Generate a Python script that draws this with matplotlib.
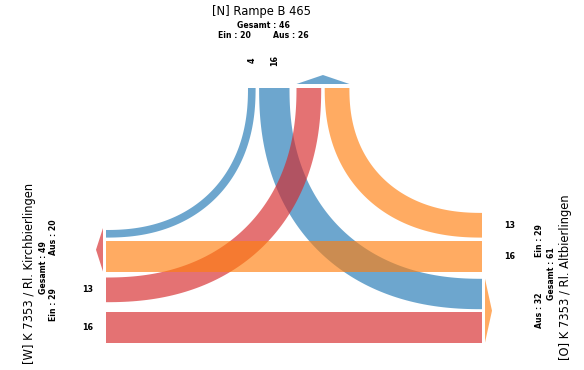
import numpy as np
import matplotlib.pyplot as plt
from matplotlib.patches import Polygon


# Knotenstromdaten (Fahrzeuge)
arm_namen = {'N': '[N] Rampe B 465',
             'W': '[W] K 7353 / Rl. Kirchbierlingen',
             'O': '[O] K 7353 / Rl. Altbierlingen'}
ein = {'N': 20, 'W': 29, 'O': 29}
aus = {'N': 26, 'W': 20, 'O': 32}
gesamt = {'N': 46, 'W': 49, 'O': 61}

von = ['N', 'N', 'W', 'W', 'O', 'O']
nach = ['W', 'O', 'N', 'O', 'N', 'W']
menge = [4, 16, 13, 16, 13, 16]

farbe = {'N': 'tab:blue', 'W': 'tab:red', 'O': 'tab:orange'}
ALPHA = 0.65

strom = {(v, n): m for v, n, m in zip(von, nach, menge)}

# layout (pixel units, y nach unten)
k = 1.9          # px pro Fahrzeug
L, R, T = 106, 482, 88
P = 2.25         # Form der Bögen (Superellipse)

def breite(v, n):
    return strom[(v, n)] * k

# Fahrstreifen am Nordarm (x-Lage)
nx = {}
x = 248
for (v, n), g in zip([('N', 'W'), ('N', 'O'), ('W', 'N'), ('O', 'N')], [3.5, 7, 3.5, 0]):
    w = breite(v, n)
    nx[(v, n)] = (x, x + w)
    x += w + g

# Fahrstreifen am Westarm (y-Lage)
wy = {}
y = 230
for (v, n), g in zip([('N', 'W'), ('O', 'W'), ('W', 'N'), ('W', 'O')], [3.5, 6, 10, 0]):
    w = breite(v, n)
    wy[(v, n)] = (y, y + w)
    y += w + g

# Ostarm: gerade Bänder liegen gleich wie im Westen
oy = {('O', 'W'): wy[('O', 'W')], ('W', 'O'): wy[('W', 'O')]}
top = oy[('O', 'W')][0] - 3.5
oy[('O', 'N')] = (top - breite('O', 'N'), top)
bot = oy[('W', 'O')][0] - 3
oy[('N', 'O')] = (bot - breite('N', 'O'), bot)


fig = plt.figure(figsize=(5.84, 3.70), dpi=100)
ax = fig.add_axes([0, 0, 1, 1])
ax.set_xlim(0, 584)
ax.set_ylim(370, 0)
ax.axis('off')


def bogen(xr, yr, seite, c):
    # Viertel-Superellipse von oben (Nordarm) zur Seite (W oder O)
    t = np.linspace(0, np.pi / 2, 100)
    cs = np.cos(t) ** (2 / P)
    sn = np.sin(t) ** (2 / P)
    cx = L if seite == 'W' else R
    sx = 1 if seite == 'W' else -1
    xm = (xr[0] + xr[1]) / 2
    ym = (yr[0] + yr[1]) / 2
    w = xr[1] - xr[0]
    a = abs(xm - cx)
    b = ym - T
    aussen = np.column_stack([cx + sx * (a + w / 2) * cs, T + (b + w / 2) * sn])
    innen = np.column_stack([cx + sx * (a - w / 2) * cs, T + (b - w / 2) * sn])
    pts = np.vstack([aussen, innen[::-1]])
    ax.add_patch(Polygon(pts, closed=True, fc=c, ec='none', alpha=ALPHA))


for v, n in zip(von, nach):
    c = farbe[v]
    if 'N' in (v, n):
        seite = n if v == 'N' else v
        yr = wy[(v, n)] if seite == 'W' else oy[(v, n)]
        bogen(nx[(v, n)], yr, seite, c)
    else:
        y0, y1 = wy[(v, n)]
        ax.add_patch(Polygon([(L, y0), (R, y0), (R, y1), (L, y1)], closed=True,
                             fc=c, ec='none', alpha=ALPHA))

# Richtungspfeile (ausfahrende Streifen)
x0 = nx[('W', 'N')][0]
x1 = nx[('O', 'N')][1]
ax.add_patch(Polygon([(x0, T - 4), (x1, T - 4), ((x0 + x1) / 2, T - 13)],
                     fc=farbe['N'], ec='none', alpha=ALPHA))
y0 = wy[('N', 'W')][0] - 2
y1 = wy[('O', 'W')][1]
ax.add_patch(Polygon([(L - 3, y0), (L - 3, y1), (L - 10, (y0 + y1) / 2)],
                     fc=farbe['W'], ec='none', alpha=ALPHA))
y0 = oy[('N', 'O')][0]
y1 = oy[('W', 'O')][1]
ax.add_patch(Polygon([(R + 3, y0), (R + 3, y1), (R + 10, (y0 + y1) / 2)],
                     fc=farbe['O'], ec='none', alpha=ALPHA))

# Mengen an den einfahrenden Streifen
for n in ['W', 'O']:
    xa, xb = nx[('N', n)]
    ax.text((xa + xb) / 2, 60, str(strom[('N', n)]), rotation=90, ha='center', va='center',
            fontsize=5.8, fontweight='bold')
for n in ['N', 'O']:
    ya, yb = wy[('W', n)]
    ax.text(88, (ya + yb) / 2, str(strom[('W', n)]), ha='center', va='center',
            fontsize=5.8, fontweight='bold')
for n in ['N', 'W']:
    ya, yb = oy[('O', n)]
    ax.text(510, (ya + yb) / 2, str(strom[('O', n)]), ha='center', va='center',
            fontsize=5.8, fontweight='bold')

# Armbeschriftungen
fs_t, fs_s = 8.3, 5.6
ax.text(262, 12, arm_namen['N'], ha='center', va='center', fontsize=fs_t)
ax.text(263, 25, 'Gesamt : %d' % gesamt['N'], ha='center', va='center', fontsize=fs_s, fontweight='bold')
ax.text(234, 36, 'Ein : %d' % ein['N'], ha='center', va='center', fontsize=fs_s, fontweight='bold')
ax.text(291, 36, 'Aus : %d' % aus['N'], ha='center', va='center', fontsize=fs_s, fontweight='bold')

ax.text(30, 273, arm_namen['W'], rotation=90, ha='center', va='center', fontsize=fs_t)
ax.text(44, 268, 'Gesamt : %d' % gesamt['W'], rotation=90, ha='center', va='center', fontsize=fs_s, fontweight='bold')
ax.text(53, 305, 'Ein : %d' % ein['W'], rotation=90, ha='center', va='center', fontsize=fs_s, fontweight='bold')
ax.text(53, 237, 'Aus : %d' % aus['W'], rotation=90, ha='center', va='center', fontsize=fs_s, fontweight='bold')

ax.text(565, 277, arm_namen['O'], rotation=90, ha='center', va='center', fontsize=fs_t)
ax.text(551, 274, 'Gesamt : %d' % gesamt['O'], rotation=90, ha='center', va='center', fontsize=fs_s, fontweight='bold')
ax.text(539, 241, 'Ein : %d' % ein['O'], rotation=90, ha='center', va='center', fontsize=fs_s, fontweight='bold')
ax.text(539, 310, 'Aus : %d' % aus['O'], rotation=90, ha='center', va='center', fontsize=fs_s, fontweight='bold')

fig.savefig('out.png', dpi=100)
